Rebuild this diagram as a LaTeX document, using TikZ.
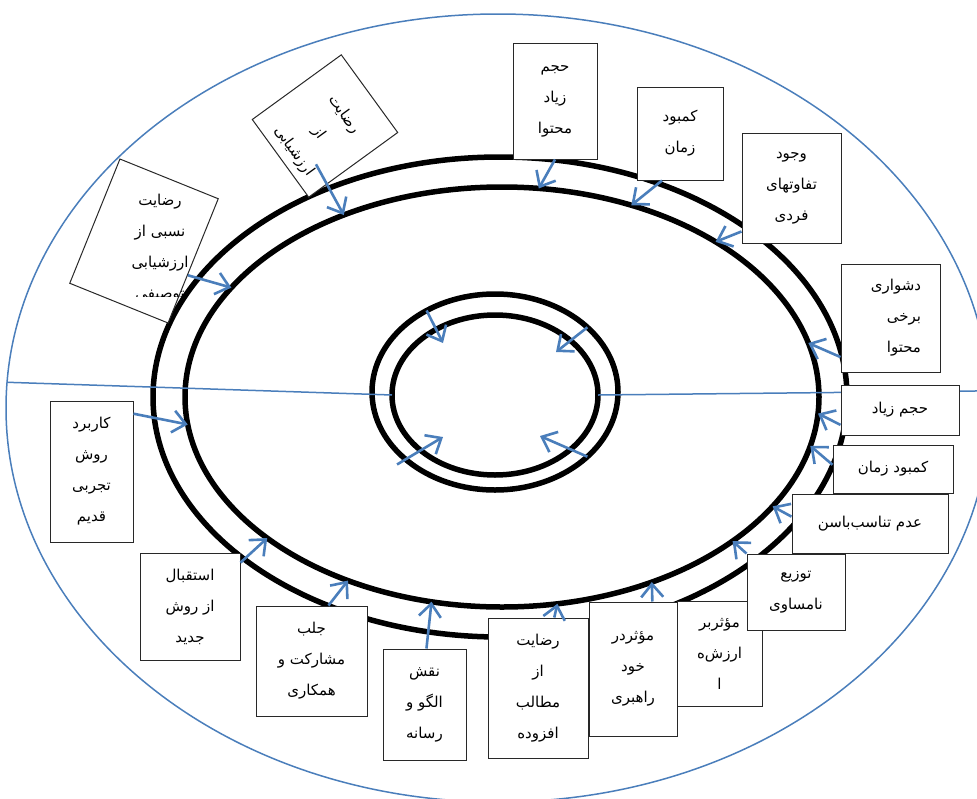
\documentclass[tikz,border=0pt]{standalone}
\usepackage{fontspec}
\newfontfamily\arabicfont[Script=Arabic]{DejaVu Sans}
\TeXXeTstate=1
\usetikzlibrary{shapes.geometric, arrows.meta}
\definecolor{myblue}{RGB}{74,126,187}
\definecolor{myframe}{RGB}{40,40,40}
\newcommand{\fa}[1]{\beginR #1\endR}
\tikzset{
  ring/.style={ellipse, draw=black, line width=5.5pt, inner sep=0pt, outer sep=0pt},
  zone/.style={ellipse, draw=myblue, line width=1.5pt, inner sep=0pt, outer sep=0pt},
  block/.style={rectangle, draw=myframe, fill=white, line width=1pt,
    inner sep=0pt, align=center, font=\arabicfont\fontsize{15}{31}\selectfont},
  arrow/.style={-{Straight Barb[length=13pt, width=22pt]}, line width=2.6pt, color=myblue},
  divider/.style={line width=1.5pt, color=myblue}
}

\begin{document}
\begin{tikzpicture}[x=1pt, y=-1pt]
  \useasboundingbox (0,0) rectangle (977,798);
  \clip (0,0) rectangle (977,798);

  % rings
  \node[zone, minimum width=984pt, minimum height=788pt] (outerblue) at (498,408) {};
  \node[ring, minimum width=694pt, minimum height=480pt] (bigout) at (500,397) {};
  \node[ring, minimum width=634pt, minimum height=420pt] (bigin) at (502,397) {};
  \node[ring, minimum width=246pt, minimum height=196pt] (smallout) at (495,392) {};
  \node[ring, minimum width=206pt, minimum height=160pt] (smallin) at (495,395) {};
  \draw[divider] (outerblue.177.6) -- (smallin.west);
  \draw[divider] (smallin.east) -- (outerblue.2.3);

  % tilted boxes
  \node[block, rotate=-22, minimum width=106pt, minimum height=134pt] (descbox) at (144,241) {};
  \begin{scope}
    \clip (60,150) rectangle (240,296);
    \node[block, draw=none, fill=none] (desctext) at (160,248)
      {\fa{رضایت}\\\fa{نسبی از}\\\fa{ارزشیابی}\\\fa{توصیفی}};
  \end{scope}
  \node[block, rotate=-54, minimum width=96pt, minimum height=110pt] (evalbox) at (325,126) {};
  \node[block, draw=none, fill=none, rotate=-54] (evaltext) at (319,133)
    {\fa{رضایت}\\\fa{از}\\\fa{ارزشیابی}};

  % upper right
  \node[block, minimum width=84pt, minimum height=116pt] (volcont) at (555,101)
    {\fa{حجم}\\\fa{زیاد}\\\fa{محتوا}};
  \node[block, minimum width=86pt, minimum height=93pt] (timeshort) at (680,133.5)
    {\fa{کمبود}\\\fa{زمان}};
  \node[block, minimum width=99pt, minimum height=110pt] (indiv) at (791.5,188)
    {\fa{وجود}\\\fa{تفاوتهای}\\\fa{فردی}};
  \node[block, align=right, text width=61pt, inner xsep=19pt, minimum height=108pt] (hardcont) at (890.5,318)
    {\fa{دشواری}\\\fa{برخی}\\\fa{محتوا}};
  \node[block, minimum width=118pt, minimum height=50pt] (volume) at (900,410) {\fa{حجم زیاد}};
  \node[block, minimum width=120pt, minimum height=48pt] (timelack) at (893,469) {\fa{کمبود زمان}};
  \node[block, minimum width=156pt, minimum height=59pt] (nofit) at (870,523.5) {\fa{عدم تناسب‌باسن}};

  % lower row
  \node[block, minimum width=85pt, minimum height=105pt] (effval) at (719.5,653.5)
    {\fa{مؤثربر}\\\fa{ارزش‌ه}\\\fa{ا}};
  \node[block, minimum width=98pt, minimum height=76pt] (uneven) at (796,592)
    {\fa{توزیع}\\\fa{نامساوی}};
  \node[block, minimum width=88pt, minimum height=134pt] (effself) at (633,669)
    {\fa{مؤثردر}\\\fa{خود}\\\fa{راهبری}};
  \node[block, minimum width=100pt, minimum height=140pt] (satextra) at (538,688)
    {\fa{رضایت}\\\fa{از}\\\fa{مطالب}\\\fa{افزوده}};
  \node[block, minimum width=83pt, minimum height=111pt] (model) at (424.5,704.5)
    {\fa{نقش}\\\fa{الگو و}\\\fa{رسانه}};
  \node[block, minimum width=111pt, minimum height=110pt] (partic) at (311.5,661)
    {\fa{جلب}\\\fa{مشارکت و}\\\fa{همکاری}};
  \node[block, minimum width=100pt, minimum height=107pt] (newmeth) at (190,606.5)
    {\fa{استقبال}\\\fa{از روش}\\\fa{جدید}};
  \node[block, minimum width=83pt, minimum height=141pt] (oldmeth) at (91.5,471.5)
    {\fa{کاربرد}\\\fa{روش}\\\fa{تجربی}\\\fa{قدیم}};

  % arrows into the big ring
  \draw[arrow] (descbox.-16) -- (bigin.158);
  \draw[arrow, shorten <=-23pt] (evalbox.-34) -- (bigin.131);
  \draw[arrow] (volcont.south) -- (bigin.80);
  \draw[arrow] (timeshort.249) -- (bigin.56);
  \draw[arrow] (indiv.221) -- (bigin.36);
  \draw[arrow] (hardcont.218) -- (bigin.10);
  \draw[arrow] (volume.194) -- (bigin.-3.5);
  \draw[arrow] (timelack.176) -- (bigin.-9);
  \draw[arrow] (nofit.175) -- (bigin.-22);
  \draw[arrow] (uneven.north west) -- (bigin.-32);
  \draw[arrow] (effself.74) -- (bigin.-51);
  \draw[arrow] (satextra.77) -- (bigin.-75);
  \draw[arrow] (model.88) -- (bigin.-109.4);
  \draw[arrow] (partic.73) -- (bigin.-130);
  \draw[arrow] (newmeth.41) -- (bigin.-149.5);
  \draw[arrow] (oldmeth.54) -- (bigin.-175);

  % arrows into the small ring
  \coordinate (inA) at (443,343);
  \coordinate (inB) at (556,352);
  \coordinate (inC) at (443,437);
  \coordinate (inD) at (540,436);
  \draw[arrow] (smallout.130) -- (inA);
  \draw[arrow] (smallout.35) -- (inB);
  \draw[arrow, shorten <=-10pt] (smallout.217) -- (inC);
  \draw[arrow] (smallout.-35) -- (inD);
\end{tikzpicture}
\end{document}
